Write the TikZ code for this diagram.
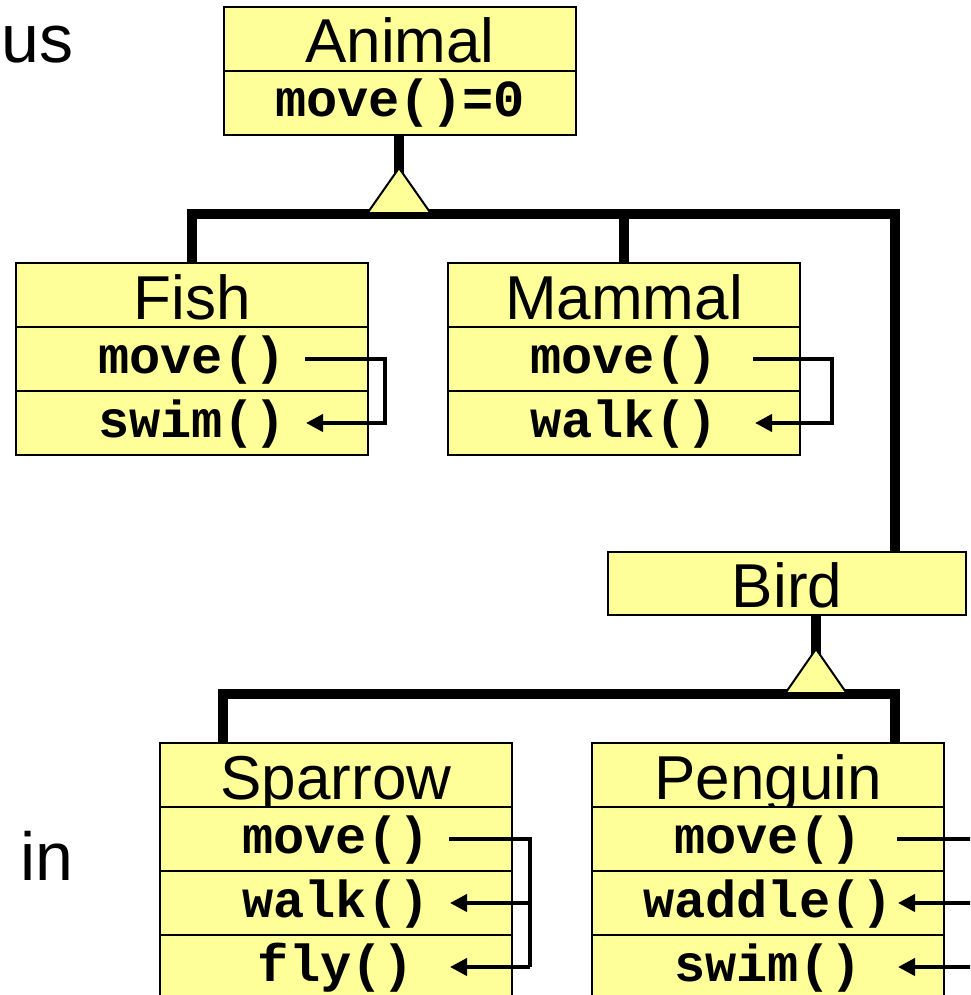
\documentclass[tikz,border=0pt]{standalone}
\usepackage{fontspec}
\setmainfont{Liberation Sans}
\setmonofont{Liberation Mono}
\usetikzlibrary{arrows.meta,calc}
\definecolor{boxyellow}{RGB}{255,255,153}
\newcommand{\namefont}{\fontsize{62}{70}\selectfont\rmfamily}
\newcommand{\sidefont}{\fontsize{68}{78}\selectfont\rmfamily}
\newcommand{\methfont}{\fontsize{52}{60}\selectfont\ttfamily\bfseries}
\tikzset{
  compart/.style={draw, line width=2pt, fill=boxyellow, minimum width=352pt,
    minimum height=64pt, inner sep=0pt, anchor=north west},
  cname/.style={compart, font=\namefont, text height=48pt, text depth=0pt},
  cmeth/.style={compart, font=\methfont, text height=36pt, text depth=8pt},
  bus/.style={line width=10pt},
  inhtri/.style={draw, line width=2pt, fill=boxyellow, line join=miter},
  call/.style={line width=4pt, -{Triangle[length=17pt,width=17pt]}},
  plain/.style={line width=4pt},
  sidetext/.style={font=\sidefont, inner sep=0pt},
}
\begin{document}
\begin{tikzpicture}[x=1pt, y=-1pt]
\useasboundingbox (0,0) rectangle (970,995);
\clip (0,0) rectangle (970,995);

% side texts
\node[sidetext, anchor=base east] (us) at (74,63) {us};
\node[sidetext, anchor=base west] (in) at (20,880) {in};

% Animal
\node[cname] (animalN) at (223,6) {Animal};
\node[cmeth] (animalM) at (223,70) {move()=0};

% Fish
\node[cname] (fishN) at (15,262) {Fish};
\node[cmeth] (fishM) at (15,326) {move()};
\node[cmeth] (fishS) at (15,390) {swim()};

% Mammal
\node[cname] (mammalN) at (447,262) {Mammal};
\node[cmeth] (mammalM) at (447,326) {move()};
\node[cmeth] (mammalW) at (447,390) {walk()};

% Bird
\node[cname, minimum width=358pt, minimum height=63pt] (birdN) at (607,551) {Bird};

% Sparrow
\node[cname] (sparrowN) at (159,742) {Sparrow};
\node[cmeth] (sparrowM) at (159,806) {move()};
\node[cmeth] (sparrowW) at (159,870) {walk()};
\node[cmeth] (sparrowF) at (159,934) {fly()};

% Penguin
\node[cname] (penguinN) at (591,742) {Penguin};
\node[cmeth] (penguinM) at (591,806) {move()};
\node[cmeth] (penguinW) at (591,870) {waddle()};
\node[cmeth] (penguinS) at (591,934) {swim()};

% inheritance tree 1
\coordinate (inh1) at (399,214);
\coordinate (bus1r) at (895,214);
\draw[bus] (animalM.south -| inh1) -- ($(inh1)+(0,-40)$);
\draw[bus] (fishN.north) -- (fishN.north |- bus1r) -- (bus1r) -- (bus1r |- birdN.north);
\draw[bus] (mammalN.north) -- (mammalN.north |- bus1r);
\filldraw[inhtri] ($(inh1)+(-31.5,-1)$) -- ($(inh1)+(0,-46)$) -- ($(inh1)+(31.5,-1)$) -- cycle;

% inheritance tree 2
\coordinate (inh2) at (816,694);
\coordinate (bus2l) at (223,694);
\coordinate (bus2r) at (895,694);
\draw[bus] (inh2 |- birdN.south) -- ($(inh2)+(0,-40)$);
\draw[bus] (bus2l |- sparrowN.north) -- (bus2l) -- (bus2r) -- (bus2r |- penguinN.north);
\filldraw[inhtri] ($(inh2)+(-30.5,-1)$) -- ($(inh2)+(0,-45)$) -- ($(inh2)+(30.5,-1)$) -- cycle;

% call arrows
\draw[call] ([xshift=-64pt]fishM.east) -- ([xshift=16pt]fishM.east) |- ([xshift=-63pt]fishS.east);
\draw[call] ([xshift=-48pt]mammalM.east) -- ([xshift=31pt]mammalM.east) |- ([xshift=-46pt]mammalW.east);
\draw[plain] ([xshift=-64pt]sparrowM.east) -- ([xshift=17pt]sparrowM.east) -- ([xshift=17pt]sparrowF.east);
\draw[call] ([xshift=17pt]sparrowW.east) -- ([xshift=-63pt]sparrowW.east);
\draw[call] ([xshift=17pt]sparrowF.east) -- ([xshift=-63pt]sparrowF.east);
\draw[plain] ([xshift=-48pt]penguinM.east) -- ([xshift=40pt]penguinM.east);
\draw[call] ([xshift=40pt]penguinW.east) -- ([xshift=-47pt]penguinW.east);
\draw[call] ([xshift=40pt]penguinS.east) -- ([xshift=-47pt]penguinS.east);
\end{tikzpicture}
\end{document}
